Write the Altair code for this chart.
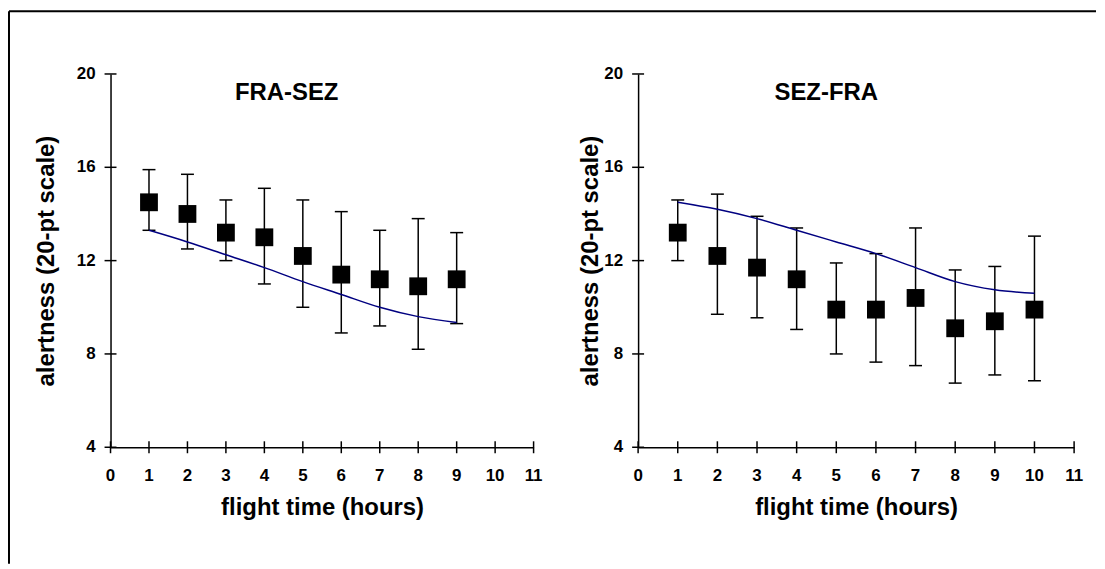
import altair as alt
import pandas as pd

# ---- data ----
hours_fs = [1, 2, 3, 4, 5, 6, 7, 8, 9]
mean_fs = [14.5, 14.0, 13.2, 13.0, 12.2, 11.4, 11.2, 10.9, 11.2]
upper_fs = [15.9, 15.7, 14.6, 15.1, 14.6, 14.1, 13.3, 13.8, 13.2]
lower_fs = [13.3, 12.5, 12.0, 11.0, 10.0, 8.9, 9.2, 8.2, 9.3]
model_fs = [13.3, 12.8, 12.25, 11.7, 11.1, 10.55, 10.0, 9.6, 9.35]

hours_sf = [1, 2, 3, 4, 5, 6, 7, 8, 9, 10]
mean_sf = [13.2, 12.2, 11.7, 11.2, 9.9, 9.9, 10.4, 9.1, 9.4, 9.9]
upper_sf = [14.6, 14.85, 13.9, 13.4, 11.9, 12.3, 13.4, 11.6, 11.75, 13.05]
lower_sf = [12.0, 9.7, 9.55, 9.05, 8.0, 7.65, 7.5, 6.75, 7.1, 6.85]
model_sf = [14.5, 14.2, 13.8, 13.3, 12.8, 12.3, 11.7, 11.1, 10.75, 10.6]

x_ticks = list(range(0, 12))
y_ticks = [4, 8, 12, 16, 20]

FONT = "Liberation Sans"
X_TITLE = "flight time (hours)"
Y_TITLE = "alertness (20-pt scale)"


def panel(title, hours, mean, upper, lower, model, width, title_x, ytitle_pad, border=False):
    df = pd.DataFrame({"h": hours, "m": mean, "hi": upper, "lo": lower, "model": model})
    xs = alt.Scale(domain=[0, 11], nice=False, zero=False)
    ys = alt.Scale(domain=[4, 20], nice=False, zero=False)
    xax = alt.Axis(values=x_ticks, ticks=False, labels=False, titlePadding=49,
                   titleFontSize=24, titleFontWeight="bold")
    yax = alt.Axis(values=y_ticks, ticks=False, labels=False, titlePadding=ytitle_pad,
                   titleFontSize=24, titleFontWeight="bold")

    def X(field):
        return alt.X(field, type="quantitative", scale=xs, axis=xax, title=X_TITLE)

    def Y(field):
        return alt.Y(field, type="quantitative", scale=ys, axis=yax, title=Y_TITLE)

    base = alt.Chart(df)
    bars = base.mark_rule(color="black", strokeWidth=1.5).encode(x=X("h"), y=Y("lo"), y2="hi")
    cap_hi = base.mark_tick(orient="horizontal", size=13, thickness=1.5, color="black",
                            opacity=1).encode(x=X("h"), y=Y("hi"))
    cap_lo = base.mark_tick(orient="horizontal", size=13, thickness=1.5, color="black",
                            opacity=1).encode(x=X("h"), y=Y("lo"))
    line = base.mark_line(color="#000080", strokeWidth=1.5, interpolate="monotone").encode(
        x=X("h"), y=Y("model"))
    pts = base.mark_square(size=320, color="black", opacity=1).encode(x=X("h"), y=Y("m"))

    ydf = pd.DataFrame({"v": y_ticks})
    xdf = pd.DataFrame({"v": x_ticks})
    ytk = alt.Chart(ydf).mark_tick(
        orient="horizontal", size=12, thickness=1.5, color="black", opacity=1
    ).encode(x=alt.datum(0), y=Y("v"))
    xtk = alt.Chart(xdf).mark_tick(
        orient="vertical", size=12, thickness=1.5, color="black", opacity=1
    ).encode(x=X("v"), y=alt.datum(4))
    ylab = alt.Chart(ydf).mark_text(
        font=FONT, fontSize=17, fontWeight="bold", align="right", baseline="middle",
        dx=-15, color="black"
    ).encode(x=alt.datum(0), y=Y("v"), text=alt.Text("v:Q", format="d"))
    xlab = alt.Chart(xdf).mark_text(
        font=FONT, fontSize=17, fontWeight="bold", align="center", baseline="top",
        dy=21, color="black"
    ).encode(x=X("v"), y=alt.datum(4), text=alt.Text("v:Q", format="d"))

    dummy = alt.Chart(pd.DataFrame({"a": [0]}))
    ttl = dummy.mark_text(font=FONT, fontSize=24, fontWeight="bold", align="center",
                          baseline="alphabetic", color="black").encode(
        x=alt.value(title_x), y=alt.value(26), text=alt.value(title))

    layers = [bars, cap_hi, cap_lo, line, pts, ytk, xtk, ylab, xlab, ttl]
    if border:
        top = dummy.mark_rule(color="black", strokeWidth=2).encode(
            x=alt.value(-102), x2=alt.value(990), y=alt.value(-63))
        left = dummy.mark_rule(color="black", strokeWidth=2).encode(
            x=alt.value(-102), y=alt.value(-63), y2=alt.value(492))
        layers = [top, left] + layers

    return alt.layer(*layers).properties(width=width, height=375)


left = panel("FRA-SEZ", hours_fs, mean_fs, upper_fs, lower_fs, model_fs, 425, 177, 52, True)
right = panel("SEZ-FRA", hours_sf, mean_sf, upper_sf, lower_sf, model_sf, 438, 189, 36)

chart = alt.hconcat(left, right, spacing=105, bounds="flush").properties(
    padding={"left": 0, "top": 1, "right": 0, "bottom": 0},
    background="white",
).configure_view(stroke=None).configure_axis(
    domainColor="black", domainWidth=1.5, labelColor="black", titleColor="black",
    grid=False, labelFont=FONT, titleFont=FONT,
)

chart.save("out.html", embed_options={"renderer": "svg", "actions": False})
